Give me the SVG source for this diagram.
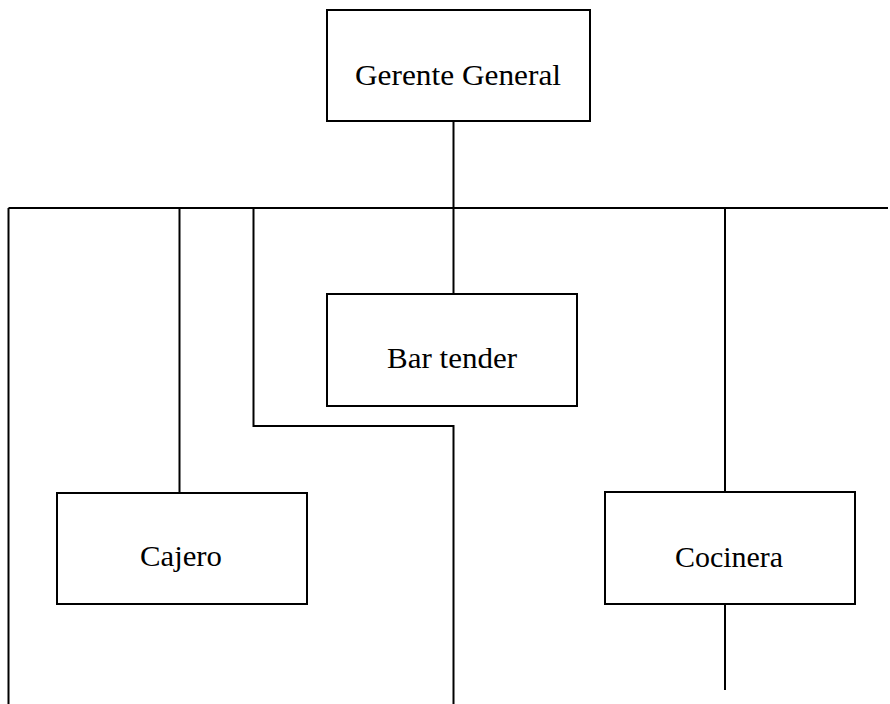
<svg xmlns="http://www.w3.org/2000/svg" width="890" height="704" viewBox="0 0 890 704">
<style>
.box{fill:#fff;stroke:#000;stroke-width:2}
.ln{fill:none;stroke:#000;stroke-width:2}
.t{font-family:"Liberation Serif","Times New Roman",serif;font-size:29px;fill:#000;text-anchor:middle}
</style>
<rect width="890" height="704" fill="#fff"/>
<g id="connectors">
<path class="ln" d="M453.5 121V208"/>
<path class="ln" d="M8.5 208H888"/>
<path class="ln" d="M8.5 208V704"/>
<path class="ln" d="M179.5 208V493"/>
<path class="ln" d="M253.5 208V426H453.5V704"/>
<path class="ln" d="M453.5 208V294"/>
<path class="ln" d="M725 208V492"/>
<path class="ln" d="M725 604V690"/>
</g>
<g id="gerente">
<rect class="box" x="327" y="10" width="263" height="111"/>
<text class="t" x="458" y="85" textLength="206" lengthAdjust="spacingAndGlyphs">Gerente General</text>
</g>
<g id="bartender">
<rect class="box" x="327" y="294" width="250" height="112"/>
<text class="t" x="452" y="368" textLength="130" lengthAdjust="spacingAndGlyphs">Bar tender</text>
</g>
<g id="cajero">
<rect class="box" x="57" y="493" width="250" height="111"/>
<text class="t" x="181" y="566" textLength="82" lengthAdjust="spacingAndGlyphs">Cajero</text>
</g>
<g id="cocinera">
<rect class="box" x="605" y="492" width="250" height="112"/>
<text class="t" x="729" y="567" textLength="108" lengthAdjust="spacingAndGlyphs">Cocinera</text>
</g>
</svg>
